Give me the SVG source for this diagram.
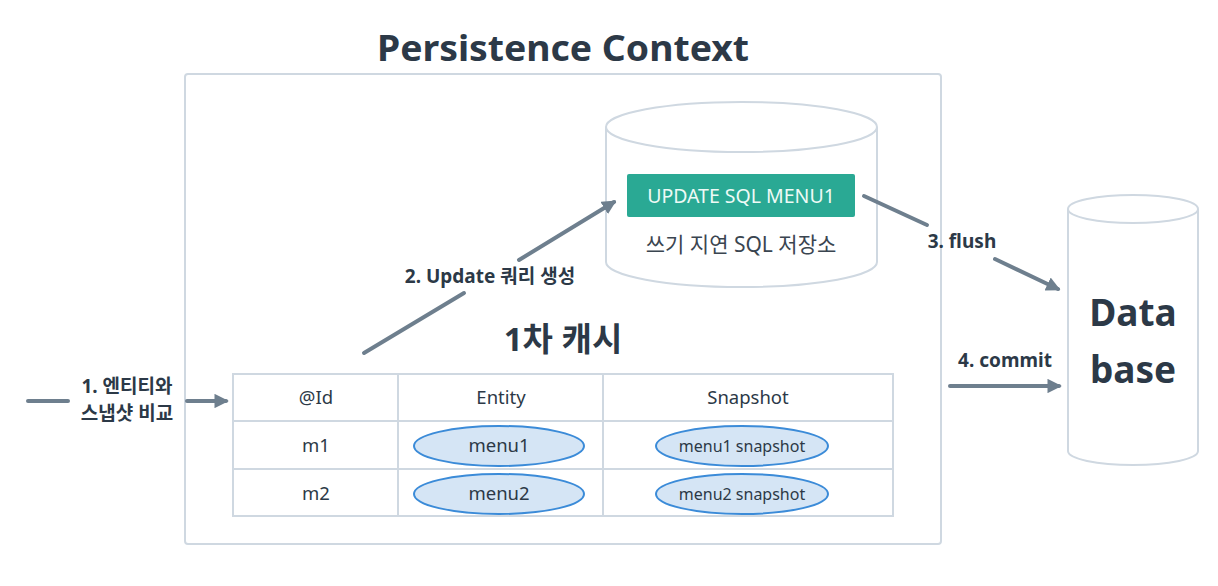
<svg xmlns="http://www.w3.org/2000/svg" width="1218" height="586" viewBox="0 0 1218 586">
<defs>
<style>
text{font-family:"Noto Sans","Noto Sans CJK KR",sans-serif;fill:#2c3947}
.b{font-weight:bold}
.frame{fill:#fff;stroke:#cfd8e1;stroke-width:2}
.line{stroke:#6e7f8e;stroke-width:4;fill:none;stroke-linecap:round}
.cell{fill:none;stroke:#cfd8e1;stroke-width:2}
.ell{fill:#d5e5f5;stroke:#3b8bd8;stroke-width:2}
.t16{font-size:18.5px}
.lab{font-size:19px;font-weight:bold}
</style>
<marker id="ah" viewBox="0 0 10 10" refX="8" refY="5" markerWidth="3.6" markerHeight="3.6" orient="auto" markerUnits="strokeWidth">
<path d="M0,0 L10,5 L0,10 z" fill="#6e7f8e"/>
</marker>
</defs>
<rect width="1218" height="586" fill="#fff"/>

<g id="title">
<text x="563" y="61" text-anchor="middle" class="b" font-size="35" textLength="372" lengthAdjust="spacingAndGlyphs">Persistence Context</text>
</g>

<g id="persistence-context">
<rect class="frame" x="185" y="74" width="756" height="470" rx="3"/>
</g>

<g id="sql-store">
<path class="frame" d="M606,127 L606,262 A135.5,25 0 0 0 877,262 L877,127"/>
<ellipse class="frame" cx="741.5" cy="127" rx="135.5" ry="25"/>
<rect x="627" y="174" width="228" height="43" rx="2" fill="#2aa994"/>
<text x="741" y="203" text-anchor="middle" font-size="19.5" style="fill:#eefaf6">UPDATE SQL MENU1</text>
<text x="741" y="252" text-anchor="middle" font-size="21" style="fill:#3a4550">쓰기 지연 SQL 저장소</text>
</g>

<g id="database">
<path class="frame" d="M1068,209 L1068,451 A65,14 0 0 0 1198,451 L1198,209"/>
<ellipse class="frame" cx="1133" cy="209" rx="65" ry="14"/>
<text x="1133" y="326" text-anchor="middle" class="b" font-size="37">Data</text>
<text x="1133" y="383" text-anchor="middle" class="b" font-size="37">base</text>
</g>

<g id="cache">
<text x="563" y="351" text-anchor="middle" class="b" font-size="33">1차 캐시</text>
<rect class="cell" x="233" y="374" width="660" height="142"/>
<line class="cell" x1="233" y1="421" x2="893" y2="421"/>
<line class="cell" x1="233" y1="469" x2="893" y2="469"/>
<line class="cell" x1="398" y1="374" x2="398" y2="516"/>
<line class="cell" x1="603" y1="374" x2="603" y2="516"/>
<text x="316" y="404" text-anchor="middle" class="t16">@Id</text>
<text x="501" y="404" text-anchor="middle" class="t16">Entity</text>
<text x="748" y="404" text-anchor="middle" class="t16">Snapshot</text>
<text x="316" y="452" text-anchor="middle" class="t16">m1</text>
<text x="316" y="500" text-anchor="middle" class="t16">m2</text>
</g>

<g id="entity-menu1">
<ellipse class="ell" cx="499" cy="446" rx="85" ry="20"/>
<text x="499" y="452" text-anchor="middle" class="t16">menu1</text>
</g>
<g id="entity-menu2">
<ellipse class="ell" cx="499" cy="494" rx="85" ry="20"/>
<text x="499" y="500" text-anchor="middle" class="t16">menu2</text>
</g>
<g id="snapshot-menu1">
<ellipse class="ell" cx="742" cy="446" rx="86" ry="20"/>
<text x="742" y="452" text-anchor="middle" font-size="16">menu1 snapshot</text>
</g>
<g id="snapshot-menu2">
<ellipse class="ell" cx="742" cy="494" rx="86" ry="20"/>
<text x="742" y="500" text-anchor="middle" font-size="16">menu2 snapshot</text>
</g>

<g id="connectors">
<line class="line" x1="28" y1="401" x2="68" y2="401"/>
<line class="line" x1="187" y1="401" x2="226" y2="401" marker-end="url(#ah)"/>
<line class="line" x1="364" y1="353" x2="464" y2="293"/>
<line class="line" x1="519" y1="260" x2="614" y2="202" marker-end="url(#ah)"/>
<line class="line" x1="864" y1="196" x2="927" y2="225"/>
<line class="line" x1="995" y1="259" x2="1058" y2="289" marker-end="url(#ah)"/>
<line class="line" x1="950" y1="386" x2="1059" y2="386" marker-end="url(#ah)"/>
</g>

<g id="labels">
<text x="127" y="393" text-anchor="middle" class="lab">1. 엔티티와</text>
<text x="127" y="420" text-anchor="middle" class="lab">스냅샷 비교</text>
<text x="490" y="283" text-anchor="middle" class="lab">2. Update 쿼리 생성</text>
<text x="962" y="248" text-anchor="middle" class="lab">3. flush</text>
<text x="1005" y="367" text-anchor="middle" class="lab">4. commit</text>
</g>
</svg>
